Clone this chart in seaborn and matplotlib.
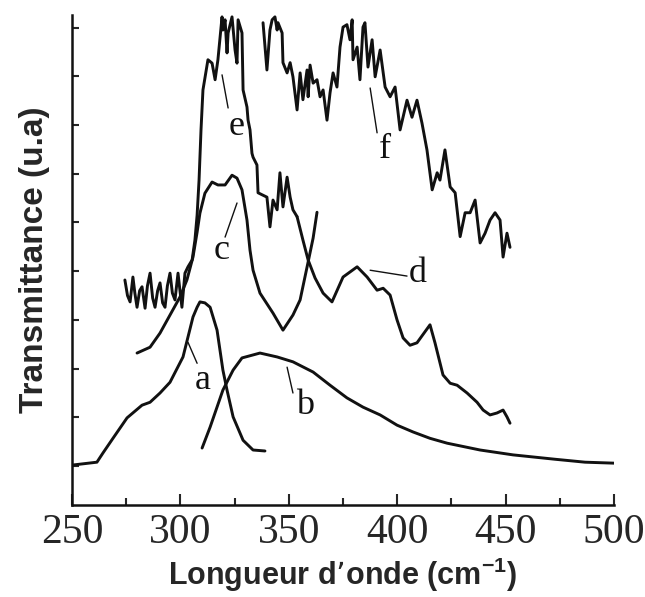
import numpy as np
import matplotlib
matplotlib.use("Agg")
import matplotlib.pyplot as plt
import seaborn as sns

# spectres (x = longueur d'onde, y = transmittance u.a.)
a_x = [250.0, 261.5, 264.3, 268.9, 275.4, 282.3, 286.0, 290.6, 295.2, 301.2, 303.5, 305.8,
       307.7, 309.0, 311.3, 313.7, 316.9, 319.6, 321.5, 324.3, 328.9, 333.5, 339.0]
a_y = [1.02, 1.08, 1.27, 1.57, 1.99, 2.25, 2.31, 2.50, 2.72, 3.24, 3.65, 4.06,
       4.26, 4.37, 4.35, 4.26, 3.79, 2.97, 2.56, 2.01, 1.53, 1.33, 1.31]

b_x = [310.0, 313.7, 319.6, 324.3, 328.4, 336.7, 344.6, 351.9, 361.2, 369.0, 376.8, 384.2,
       392.1, 399.9, 407.3, 415.1, 423.0, 438.2, 453.4, 472.8, 486.6, 500.0]
b_y = [1.37, 1.80, 2.56, 2.97, 3.22, 3.32, 3.24, 3.14, 2.93, 2.66, 2.40, 2.21,
       2.05, 1.84, 1.70, 1.57, 1.47, 1.33, 1.23, 1.14, 1.08, 1.06]

c_x = [280.0, 286.0, 290.6, 295.2, 299.8, 303.0, 305.8, 307.7, 309.0, 311.3, 314.6, 317.3,
       320.6, 323.8, 326.1, 328.4, 330.7, 332.1, 333.5, 336.7, 342.7, 347.3, 351.9, 355.2,
       358.9, 361.2, 363.0]
c_y = [3.32, 3.44, 3.73, 4.10, 4.47, 4.82, 5.29, 5.80, 6.19, 6.60, 6.83, 6.77,
       6.77, 6.97, 6.91, 6.67, 6.05, 5.43, 5.02, 4.55, 4.14, 3.79, 4.10, 4.41,
       5.19, 5.68, 6.21]

e_x = [274.4, 275.6, 276.8, 278.1, 279.0, 280.0, 281.2, 282.3, 283.7, 284.8, 286.0, 287.2,
       288.3, 289.5, 290.6, 291.8, 292.9, 294.0, 295.2, 296.3, 297.5, 298.9, 299.8, 300.7,
       302.1, 303.5, 305.4, 306.7, 307.7, 308.6, 309.5, 310.4, 312.7, 314.6,
       316.0, 317.3, 319.2, 319.6, 320.6, 321.5, 322.0, 323.8, 325.2, 326.1, 326.6, 328.4,
       328.9, 330.7, 331.2, 332.1, 333.0, 333.5, 335.3, 335.8, 337.6, 339.9, 341.3, 342.7,
       344.6, 345.9, 347.3, 349.2, 350.6, 351.9, 353.8]
e_y = [4.82, 4.50, 4.37, 4.88, 4.55, 4.26, 4.60, 4.68, 4.24, 4.70, 4.96, 4.45,
       4.26, 4.60, 4.76, 4.35, 4.26, 4.70, 4.96, 4.55, 4.41, 4.96, 4.60, 4.26,
       4.96, 5.09, 5.23, 5.64, 6.15, 6.87, 7.90, 8.72, 9.34, 9.27,
       8.93, 9.34, 10.22, 9.95, 10.16, 9.48, 9.89, 10.22, 9.54, 9.27, 10.16, 9.89,
       8.72, 8.37, 8.10, 7.90, 7.42, 7.34, 7.18, 6.61, 6.57, 6.52, 5.91, 6.46,
       6.26, 7.02, 6.32, 6.93, 6.52, 6.26, 6.12]

d_x = [353.8, 356.5, 358.9, 362.1, 365.8, 369.9, 375.0, 381.5, 386.1, 390.7, 393.5, 396.7,
       399.9, 402.7, 405.9, 409.1, 415.1, 417.4, 421.1, 424.4, 427.6, 432.2, 436.8, 439.6,
       442.8, 446.0, 448.8, 450.6, 452.0]
d_y = [6.12, 5.64, 5.23, 4.86, 4.55, 4.37, 4.88, 5.09, 4.88, 4.61, 4.65, 4.51,
       4.00, 3.63, 3.48, 3.53, 3.90, 3.53, 2.87, 2.70, 2.66, 2.50, 2.31, 2.15,
       2.05, 2.09, 2.15, 2.01, 1.88]

f_x = [338.1, 339.9, 341.3, 342.3, 343.6, 344.6, 345.0, 346.9, 347.3, 349.2, 350.6, 351.9,
       353.8, 355.2, 356.5, 358.4, 358.9, 359.8, 361.2, 363.0, 364.4, 365.8, 367.6, 369.0,
       370.4, 372.2, 373.6, 375.0, 376.8, 378.2, 379.2, 379.6, 381.5, 382.8, 384.2, 385.1,
       386.5, 388.4, 389.8, 392.1, 394.4, 396.7, 399.0, 401.3, 404.5, 406.8, 409.1, 411.4,
       413.7, 416.1, 418.4, 419.7, 422.0, 424.4, 426.7, 429.0, 431.3, 433.6, 435.9, 438.2,
       440.5, 442.8, 445.1, 447.4, 448.8, 450.6, 452.0]
f_y = [10.10, 9.13, 9.95, 10.16, 10.22, 9.95, 10.10, 9.89, 9.28, 9.07, 9.28, 8.99,
       8.31, 9.07, 8.52, 9.13, 8.58, 9.23, 8.86, 8.93, 8.58, 8.72, 8.10, 8.66,
       9.07, 8.78, 9.60, 10.01, 10.06, 9.75, 10.16, 9.34, 9.60, 8.93, 10.01, 10.10,
       9.19, 9.75, 8.99, 9.54, 8.78, 8.58, 8.78, 7.90, 8.51, 8.16, 8.51, 8.04,
       7.49, 6.67, 7.02, 6.87, 7.49, 6.73, 6.61, 5.71, 6.20, 6.20, 6.46, 5.58,
       5.78, 6.05, 6.20, 6.05, 5.29, 5.78, 5.49]

curves = [(a_x, a_y), (b_x, b_y), (c_x, c_y), (e_x, e_y), (d_x, d_y), (f_x, f_y)]

# lettres et petits traits de repere
lettres = ['a', 'b', 'c', 'e', 'f', 'd']
lettre_pos = [(310.4, 2.76), (357.5, 2.25), (319.2, 5.43), (326.1, 7.96), (394.4, 7.49), (409.6, 4.96)]
traits = [((303.5, 3.54), (307.7, 3.11)), ((349.2, 3.03), (351.9, 2.50)),
          ((326.1, 6.40), (320.6, 5.70)), ((319.2, 9.03), (322.0, 8.35)),
          ((387.5, 8.76), (390.7, 7.84)), ((387.5, 5.02), (404.5, 4.90))]

sns.set_style('ticks')
plt.rcParams['font.family'] = ['Liberation Serif', 'DejaVu Serif']

fig = plt.figure(figsize=(6.45, 5.97), dpi=100)
ax = fig.add_axes([0.1116, 0.154, 0.8405, 0.821])

for cx, cy in curves:
    sns.lineplot(x=cx, y=cy, ax=ax, sort=False, estimator=None, color='#111111', lw=2.1)

for lab, (tx, ty) in zip(lettres, lettre_pos):
    ax.text(tx, ty, lab, fontsize=26, ha='center', va='center', color='#111111')
for (p0, p1) in traits:
    ax.plot([p0[0], p1[0]], [p0[1], p1[1]], color='#111111', lw=1.0)

ax.set_xlim(250, 500)
ax.set_ylim(0.2, 10.26)
ax.set_xticks(range(250, 501, 50))
ax.set_xticks(range(275, 500, 50), minor=True)
ax.set_yticks(range(1, 11))
ax.set_yticklabels([])
ax.tick_params(axis='x', which='major', direction='in', length=8, width=1.5,
               labelsize=30, pad=6)
ax.tick_params(axis='x', which='minor', direction='in', length=5, width=1.5)
ax.tick_params(axis='y', direction='in', length=5, width=1.5)
for s in ['top', 'right']:
    ax.spines[s].set_visible(False)
for s in ['left', 'bottom']:
    ax.spines[s].set_linewidth(1.8)
    ax.spines[s].set_color('#111111')

ax.set_xlabel("Longueur d\u2019onde (cm$^{\\mathregular{-1}}$)", family='Liberation Sans',
              fontweight='bold', fontsize=22, labelpad=3)
ax.set_ylabel('Transmittance (u.a)', family='Liberation Sans', fontweight='bold',
              fontsize=24, labelpad=12)

fig.savefig('out.png', dpi=100)
